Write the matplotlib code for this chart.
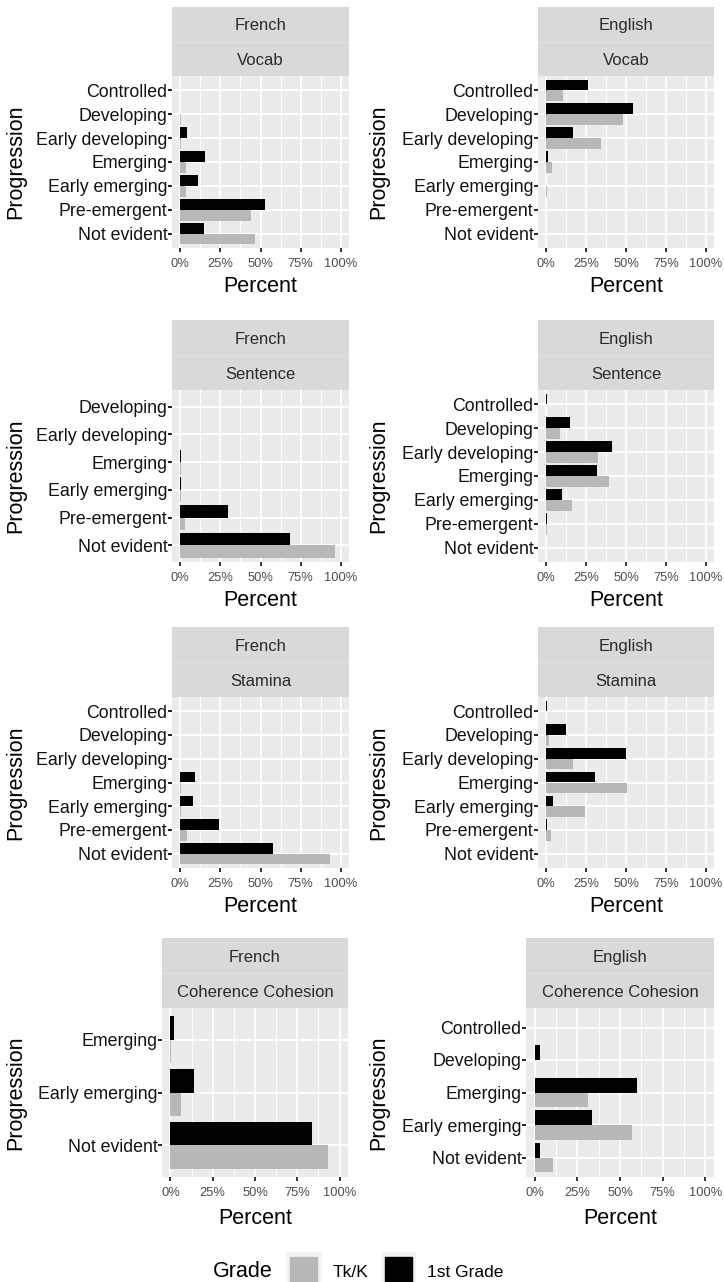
import matplotlib.pyplot as plt
from matplotlib.patches import Rectangle
import numpy as np

plt.rcParams['font.family'] = ['Liberation Sans', 'DejaVu Sans']

W, H = 724, 1282

# progression levels, top to bottom as shown on each panel
levels_all = ['Controlled', 'Developing', 'Early developing', 'Emerging',
              'Early emerging', 'Pre-emergent', 'Not evident']
levels_fr_sentence = ['Developing', 'Early developing', 'Emerging',
                      'Early emerging', 'Pre-emergent', 'Not evident']
levels_fr_cc = ['Emerging', 'Early emerging', 'Not evident']
levels_en_cc = ['Controlled', 'Developing', 'Emerging', 'Early emerging', 'Not evident']

# percent of students per level: Tk/K and 1st Grade
fr_vocab_tk = [0, 0.5, 0.5, 3.9, 3.5, 44.4, 46.7]
fr_vocab_g1 = [0, 0, 4.3, 15.7, 11.4, 52.7, 14.9]
en_vocab_tk = [10.5, 48.0, 34.2, 3.9, 0.5, 0.3, 0]
en_vocab_g1 = [26.0, 54.2, 16.7, 1.2, 0, 0, 0]

fr_sent_tk = [0, 0, 0.5, 0.4, 3.1, 96.3]
fr_sent_g1 = [0, 0, 0.8, 0.6, 29.8, 68.4]
en_sent_tk = [0, 8.9, 32.5, 39.3, 16.1, 0.6, 0.3]
en_sent_g1 = [0.6, 15.3, 41.0, 31.7, 9.7, 0.6, 0]

fr_stam_tk = [0, 0, 0, 0.5, 0.5, 4.1, 93.4]
fr_stam_g1 = [0, 0, 0, 9.5, 8.1, 24.0, 58.0]
en_stam_tk = [0, 1.7, 17.0, 50.9, 24.4, 3.3, 0.3]
en_stam_g1 = [0.5, 12.6, 49.9, 30.8, 4.6, 0.5, 0]

fr_cc_tk = [0.5, 6.3, 93.1]
fr_cc_g1 = [2.2, 13.9, 83.9]
en_cc_tk = [0.4, 0.5, 31.4, 57.1, 10.7]
en_cc_g1 = [0.4, 3.1, 60.0, 33.5, 3.3]

TK_COLOR = '#b8b8b8'
G1_COLOR = '#000000'


def frac_rect(x0, y0, x1, y1):
    return [x0 / W, 1 - y1 / H, (x1 - x0) / W, (y1 - y0) / H]


def draw_panel(fig, prect, strip_top, lang, skill, cats, tk, g1, label_x, pct_y):
    x0, y0, x1, y1 = prect
    ax = fig.add_axes(frac_rect(x0, y0, x1, y1))
    n = len(cats)
    ypos = np.arange(n)[::-1]
    ax.barh(ypos + 0.225, g1, height=0.45, color=G1_COLOR, zorder=3)
    ax.barh(ypos - 0.225, tk, height=0.45, color=TK_COLOR, zorder=3)
    ax.set_xlim(-5, 105)
    ax.set_ylim(-0.6, n - 0.4)
    ax.set_facecolor('#ebebeb')
    ax.set_xticks([0, 25, 50, 75, 100])
    ax.set_xticklabels(['0%', '25%', '50%', '75%', '100%'])
    ax.set_xticks([12.5, 37.5, 62.5, 87.5], minor=True)
    ax.set_yticks(ypos)
    ax.set_yticklabels(cats)
    ax.grid(which='major', color='white', lw=1.3, zorder=1)
    ax.grid(which='minor', axis='x', color='white', lw=0.7, zorder=1)
    for s in ax.spines.values():
        s.set_visible(False)
    ax.tick_params(axis='y', length=3.0, width=1.4, color='#222222',
                   labelsize=12.8, pad=0.3, labelcolor='#111111')
    ax.tick_params(axis='x', length=3.0, width=1.4, color='#333333',
                   labelsize=9.3, pad=4.5, labelcolor='#4d4d4d')
    ax.tick_params(which='minor', length=0)

    # two-row facet strip
    sa = fig.add_axes(frac_rect(x0, strip_top, x1, y0))
    sa.set_xlim(0, 1)
    sa.set_ylim(0, 2)
    sa.add_patch(Rectangle((0, 0), 1, 2, color='#d9d9d9'))
    sa.axhline(1, color='#e2e2e2', lw=0.8)
    sa.text(0.5, 1.45, lang, ha='center', va='center', fontsize=12, color='#2b2b2b')
    sa.text(0.5, 0.45, skill, ha='center', va='center', fontsize=12, color='#2b2b2b')
    sa.axis('off')

    fig.text(label_x / W, 1 - (y0 + y1) / 2 / H, 'Progression', rotation=90,
             ha='center', va='center', fontsize=15.5)
    fig.text((x0 + x1) / 2 / W, 1 - pct_y / H, 'Percent',
             ha='center', va='center', fontsize=15.5)


fig = plt.figure(figsize=(W / 100, H / 100), dpi=100)

draw_panel(fig, (172, 76, 349, 248), 7, 'French', 'Vocab',
           levels_all, fr_vocab_tk, fr_vocab_g1, 16, 287)
draw_panel(fig, (538, 76, 714, 248), 7, 'English', 'Vocab',
           levels_all, en_vocab_tk, en_vocab_g1, 379, 287)
draw_panel(fig, (172, 390, 349, 562), 320, 'French', 'Sentence',
           levels_fr_sentence, fr_sent_tk, fr_sent_g1, 16, 600)
draw_panel(fig, (538, 390, 714, 562), 320, 'English', 'Sentence',
           levels_all, en_sent_tk, en_sent_g1, 379, 600)
draw_panel(fig, (172, 697, 349, 868), 627, 'French', 'Stamina',
           levels_all, fr_stam_tk, fr_stam_g1, 16, 907)
draw_panel(fig, (538, 697, 714, 868), 627, 'English', 'Stamina',
           levels_all, en_stam_tk, en_stam_g1, 379, 907)
draw_panel(fig, (162, 1008, 348, 1177), 938, 'French', 'Coherence Cohesion',
           levels_fr_cc, fr_cc_tk, fr_cc_g1, 16, 1218)
draw_panel(fig, (526, 1008, 714, 1177), 938, 'English', 'Coherence Cohesion',
           levels_en_cc, en_cc_tk, en_cc_g1, 379, 1218)

# legend along the bottom
fig.text(213 / W, 1 - 1277 / H, 'Grade', ha='left', va='baseline', fontsize=15.5)
for bx, color, label, tx in [(287, TK_COLOR, 'Tk/K', 333), (382, G1_COLOR, '1st Grade', 427)]:
    fig.add_artist(Rectangle((bx / W, 1 - 1290 / H), 33 / W, 38 / H,
                             transform=fig.transFigure, color='#f2f2f2'))
    fig.add_artist(Rectangle(((bx + 3) / W, 1 - 1290 / H), 27 / W, 33 / H,
                             transform=fig.transFigure, color=color))
    fig.text(tx / W, 1 - 1277 / H, label, ha='left', va='baseline', fontsize=12.5)

fig.savefig('out.png', dpi=100)
